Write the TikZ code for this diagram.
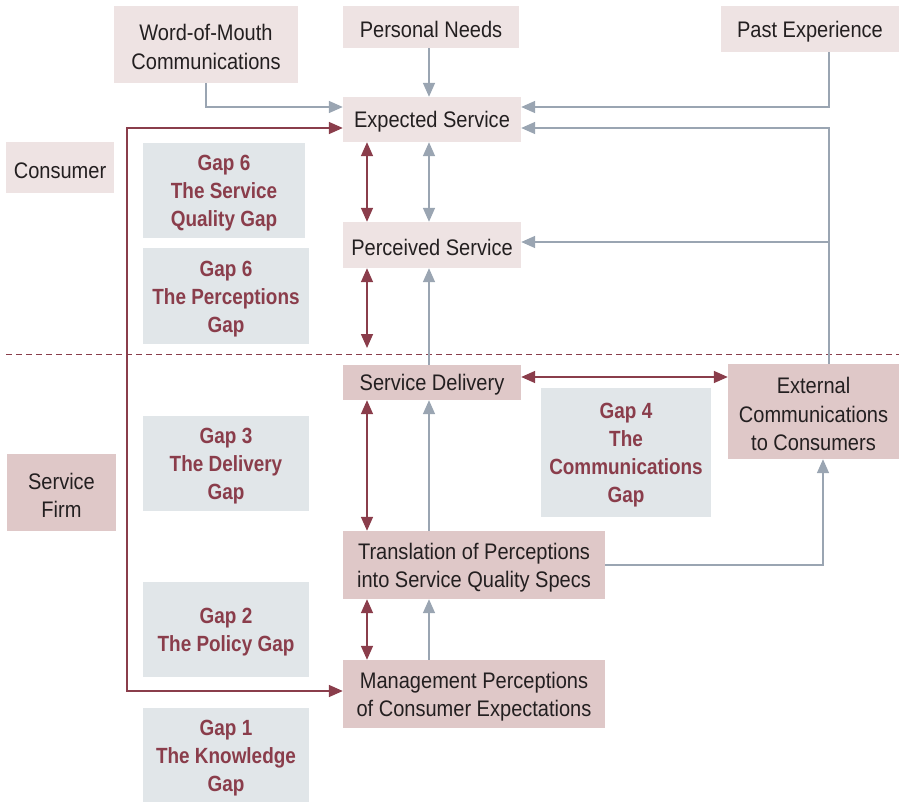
\documentclass[tikz,border=0pt]{standalone}
\usepackage{fontspec}
\setmainfont{Liberation Sans}[FakeStretch=0.89]
\newfontfamily\gapfont{Liberation Sans}[FakeStretch=0.86]
\usetikzlibrary{arrows.meta}
\definecolor{ink}{HTML}{231F20}
\definecolor{maroon}{HTML}{8A3D4B}
\definecolor{steel}{HTML}{9AA5B2}
\definecolor{consumerfill}{HTML}{EEE3E3}
\definecolor{firmfill}{HTML}{DFC8C8}
\definecolor{gapfill}{HTML}{E1E6E9}
% tall invisible strut for the first line, which sets the text slightly low in its box
\newcommand{\lowline}{\rule{0pt}{21.5pt}}
\begin{document}
\begin{tikzpicture}[x=1pt,y=-1pt,
  base/.style={inner sep=0pt, align=center, text=ink,
    font=\fontsize{22.5}{28.5}\selectfont},
  boxc/.style={base, fill=consumerfill},
  boxf/.style={base, fill=firmfill},
  boxg/.style={inner sep=0pt, align=center, fill=gapfill, text=maroon,
    font=\gapfont\bfseries\fontsize{22}{28}\selectfont,
    minimum width=166pt, minimum height=95pt},
  tip/.tip={Triangle[length=14pt,width=12pt]},
  garr/.style={draw=steel, line width=1.6pt, -tip},
  gboth/.style={draw=steel, line width=1.6pt, tip-tip},
  mboth/.style={draw=maroon, line width=1.6pt, tip-tip}]
\useasboundingbox (0,0) rectangle (899,802);

% consumer side
\node[boxc, minimum width=184pt, minimum height=77pt] (wom) at (206,44.5) {\lowline Word-of-Mouth\\Communications};
\node[boxc, minimum width=176pt, minimum height=42pt] (needs) at (431,27) {\lowline Personal Needs};
\node[boxc, minimum width=178pt, minimum height=46pt] (past) at (810,29) {\lowline Past Experience};
\node[boxc, minimum width=178pt, minimum height=45pt] (exp) at (432,119.5) {\lowline Expected Service};
\node[boxc, minimum width=178pt, minimum height=46pt] (perc) at (432,245) {\lowline Perceived Service};
\node[boxc, minimum width=108pt, minimum height=51pt] (consumer) at (60,167.5) {\lowline Consumer};

% service firm side
\node[boxf, minimum width=178pt, minimum height=35pt] (sd) at (432,382.5) {\lowline Service Delivery};
\node[boxf, minimum width=109pt, minimum height=77pt] (firm) at (61.5,492.5) {\lowline Service\\Firm};
\node[boxf, minimum width=262pt, minimum height=68pt] (trans) at (474,565) {\lowline Translation of Perceptions\\into Service Quality Specs};
\node[boxf, minimum width=262pt, minimum height=68pt] (mgmt) at (474,694) {\lowline Management Perceptions\\of Consumer Expectations};
\node[boxf, minimum width=171pt, minimum height=95pt] (ext) at (813.5,411.5) {\lowline External\\Communications\\to Consumers};

% gap labels
\node[boxg, minimum width=162pt] (gap6a) at (224,190.5) {\lowline Gap 6\\The Service\\Quality Gap};
\node[boxg] (gap6b) at (226,296) {\lowline Gap 6\\The Perceptions\\Gap};
\node[boxg] (gap3) at (226,463.5) {\lowline Gap 3\\The Delivery\\Gap};
\node[boxg, minimum width=170pt, minimum height=129pt] (gap4) at (626,452.5) {\lowline Gap 4\\The\\Communications\\Gap};
\node[boxg] (gap2) at (226,629.5) {\lowline Gap 2\\The Policy Gap};
\node[boxg, minimum height=94pt] (gap1) at (226,755) {\lowline Gap 1\\The Knowledge\\Gap};

% boundary between consumer and firm
\coordinate (dl) at (6,354);
\coordinate (dr) at (899,354);
\draw[maroon, line width=1pt, dash pattern=on 6pt off 4pt] (dl) -- (dr);

% guide columns
\coordinate (mx) at (367,0);
\coordinate (gx) at (429,0);
\coordinate (lx) at (127,0);
\coordinate (rx) at (829,0);
\coordinate (gapstop) at (367,348);

% influences on expected service
\draw[garr] (wom.south) |- ([yshift=12.5pt]exp.west);
\draw[garr] (needs.south -| gx) -- (exp.north -| gx);
\draw[garr] (past.south -| rx) |- ([yshift=12.5pt]exp.east);
\draw[garr] (ext.north -| rx) |- ([yshift=-8.5pt]exp.east);
\draw[garr] (rx |- perc.east) ++(0,-3) -- ([yshift=3pt]perc.east);

% vertical chain
\draw[gboth] (exp.south -| gx) -- (perc.north -| gx);
\draw[garr] (sd.north -| gx) -- (perc.south -| gx);
\draw[garr] (trans.north -| gx) -- (sd.south -| gx);
\draw[garr] (mgmt.north -| gx) -- (trans.south -| gx);
\draw[garr] (trans.east) -| ([xshift=9.5pt]ext.south);

% gaps
\draw[mboth] (exp.south -| mx) -- (perc.north -| mx);
\draw[mboth] (perc.south -| mx) -- (gapstop);
\draw[mboth] (sd.south -| mx) -- (trans.north -| mx);
\draw[mboth] (trans.south -| mx) -- (mgmt.north -| mx);
\draw[mboth] ([yshift=5.5pt]sd.east) -- ([yshift=5.5pt]sd.east -| ext.west);

% knowledge gap loop
\coordinate (mIn) at ([yshift=3pt]mgmt.west);
\coordinate (eIn) at ([yshift=-8.5pt]exp.west);
\draw[mboth] (mIn) -- (mIn -| lx) -- (eIn -| lx) -- (eIn);
\end{tikzpicture}
\end{document}
